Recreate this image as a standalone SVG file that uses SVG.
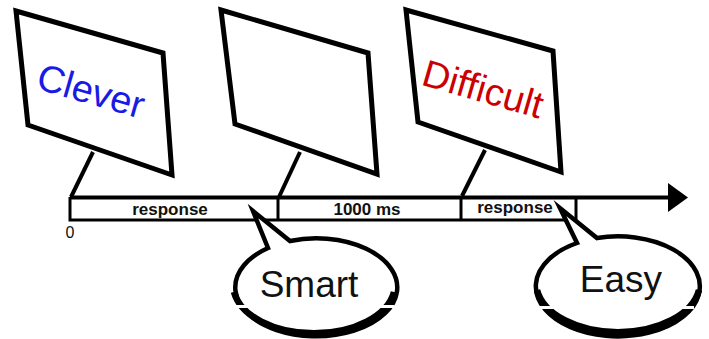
<svg xmlns="http://www.w3.org/2000/svg" width="709" height="339" viewBox="0 0 709 339">
<style>
.screen{fill:#fff;stroke:#000;stroke-width:5;stroke-linejoin:miter}
.stand{stroke:#000;stroke-width:4;fill:none}
.tl{stroke:#000;stroke-width:3;fill:none}
.lbl{font-family:"Liberation Sans",Arial,sans-serif;font-size:17px;font-weight:bold;text-anchor:middle;fill:#111}
.word{font-family:"Liberation Sans",Arial,sans-serif;font-size:38px;text-anchor:middle}
.bubble{fill:#fff;stroke:#000;stroke-width:4.5;stroke-linejoin:miter;stroke-miterlimit:10}
.bot{fill:none;stroke:#000;stroke-width:6.5}
.say{font-family:"Liberation Sans",Arial,sans-serif;font-size:37px;text-anchor:middle;fill:#111}
</style>
<rect width="709" height="339" fill="#fff"/>
<g id="connectors">
<line class="stand" x1="93" y1="152" x2="71" y2="197"/>
<line class="stand" x1="300" y1="152" x2="279" y2="197"/>
<line class="stand" x1="485" y1="150" x2="462" y2="196"/>
<line x1="70" y1="197.5" x2="672" y2="197.5" stroke="#000" stroke-width="4"/>
<polygon points="668,183 688,197.5 668,212" fill="#000"/>
<polyline class="tl" points="70,197 70,220 576,220 576,198"/>
<line class="tl" x1="278" y1="198" x2="278" y2="220" stroke-width="2.5"/>
<line class="tl" x1="461" y1="198" x2="461" y2="220" stroke-width="2.5"/>
</g>
<g id="timeline-labels">
<text class="lbl" x="170" y="215">response</text>
<text class="lbl" x="367" y="215">1000 ms</text>
<text class="lbl" x="515" y="213">response</text>
<text x="70" y="238" font-family="'Liberation Sans',Arial,sans-serif" font-size="16" text-anchor="middle" fill="#111">0</text>
</g>
<g id="screen1">
<polygon class="screen" points="16,11 163,53 172,175 28,125"/>
<text class="word" fill="#1a1ae6" transform="translate(91,91) rotate(16)" y="13">Clever</text>
</g>
<g id="screen2">
<polygon class="screen" points="221,10 368,53 377,174 235,124"/>
</g>
<g id="screen3">
<polygon class="screen" points="406,10 553,51 561,172 418,122"/>
<text class="word" fill="#cc0000" transform="translate(483,89) rotate(16)" y="13">Difficult</text>
</g>
<g id="bubble-smart">
<path class="bubble" d="M268,248 L253,211 L290,241 A81 49 0 1 1 268,248 Z"/>
<path class="bot" d="M234,292 A81 49 0 0 0 394,292"/>
<text class="say" x="309" y="297">Smart</text>
<rect x="236" y="305" width="158" height="3" fill="#fff"/>
</g>
<g id="bubble-easy">
<path class="bubble" d="M577,243 L560,208 L597,238 A82 50 0 1 1 577,243 Z"/>
<path class="bot" d="M537,290 A82 50 0 0 0 699,290"/>
<text class="say" x="621" y="292">Easy</text>
<rect x="538" y="306" width="156" height="3" fill="#fff"/>
</g>
</svg>
